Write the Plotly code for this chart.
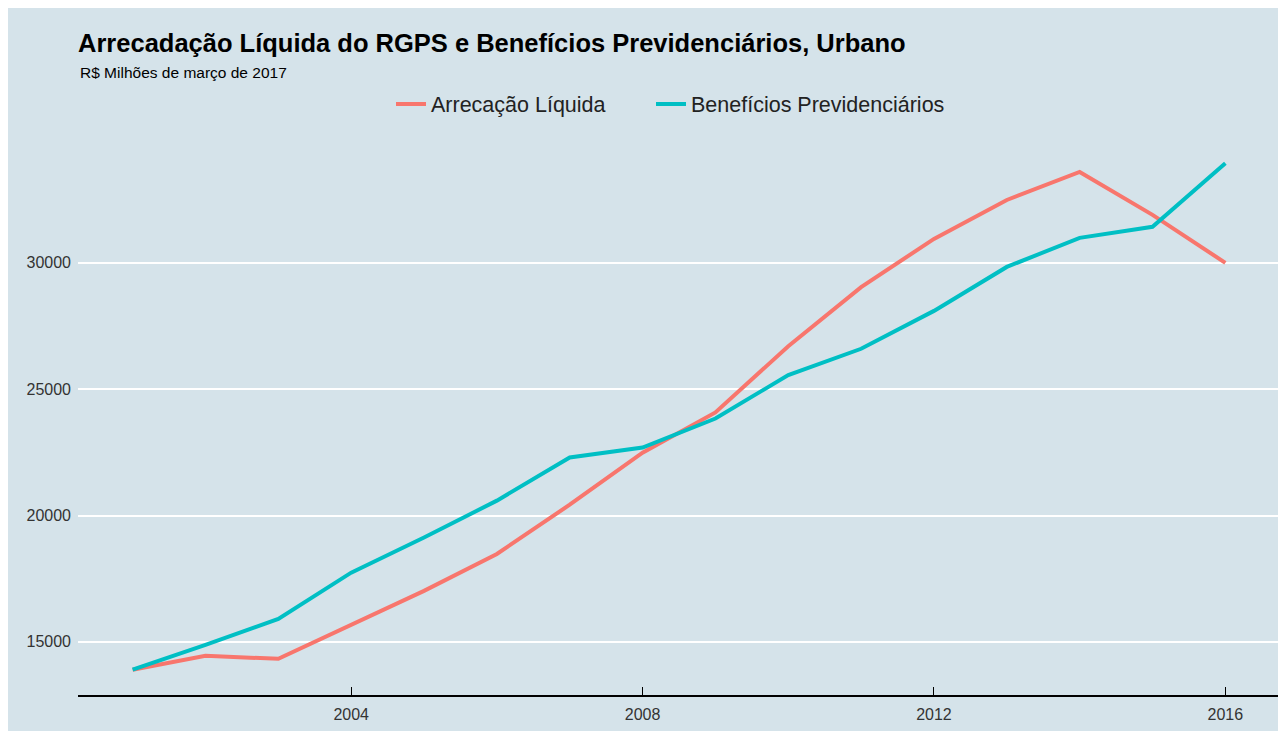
import plotly.graph_objects as go

anos = list(range(2001, 2017))
arrecadacao = [13900, 14450, 14330, 15670, 17020, 18480, 20430, 22490,
               24080, 26700, 29040, 30950, 32490, 33600, 31900, 30000]
beneficios = [13900, 14880, 15910, 17740, 19130, 20590, 22300, 22690,
              23840, 25560, 26600, 28100, 29840, 30990, 31430, 33940]
x_ticks = [2004, 2008, 2012, 2016]
y_ticks = [15000, 20000, 25000, 30000]
y_tick_text = ["15000", "20000", "25000", "30000"]

BG = "#d5e3ea"
FONT = "Liberation Sans, Arial, sans-serif"

fig = go.Figure()
fig.add_trace(go.Scatter(x=anos, y=arrecadacao, mode="lines", name="Arrecação Líquida",
                         line=dict(color="#F8766D", width=4), legend="legend"))
fig.add_trace(go.Scatter(x=anos, y=beneficios, mode="lines", name="Benefícios Previdenciários",
                         line=dict(color="#00BFC4", width=4), legend="legend2"))

# page is offset by the 8px body margin
OX, OY = 8, 8
W, H = 1278, 723
L, R, T, B = 78 - OX, 6, 138 - OY, 36
pw, ph = W - L - R, H - T - B

leg_common = dict(orientation="h", xanchor="left",
                  y=(H - B - (104 - OY)) / ph, yanchor="middle",
                  font=dict(size=21.5, color="#222222"), bgcolor="rgba(0,0,0,0)")

fig.update_layout(
    width=W, height=H,
    margin=dict(l=L, r=R, t=T, b=B),
    paper_bgcolor=BG, plot_bgcolor=BG,
    font=dict(family=FONT, color="#333333"),
    title=dict(text="<b>Arrecadação Líquida do RGPS e Benefícios Previdenciários, Urbano</b>",
               x=L / W, xanchor="left", y=1 - (43 - OY) / H, yanchor="middle",
               font=dict(size=25.5, color="black", family=FONT)),
    annotations=[dict(text="R$ Milhões de março de 2017", xref="paper", yref="paper",
                      x=0, y=(H - B - (73 - OY)) / ph, xanchor="left", yanchor="middle",
                      showarrow=False, font=dict(size=15.5, color="black", family=FONT))],
    legend=dict(x=(391 - OX - L) / pw, **leg_common),
    legend2=dict(x=(651 - OX - L) / pw, **leg_common),
    showlegend=True,
)
fig.update_xaxes(range=[2000.25, 2016.75], tickvals=x_ticks, showgrid=False,
                 showline=True, linecolor="black", linewidth=1.5,
                 ticks="inside", ticklen=8, tickcolor="black",
                 ticklabelstandoff=4,
                 tickfont=dict(size=16, color="#333333"), zeroline=False)
fig.update_yaxes(range=[12898, 34942], tickvals=y_ticks, ticktext=y_tick_text,
                 showgrid=True, gridcolor="white", gridwidth=2,
                 showline=False, zeroline=False,
                 ticks="", ticklabelstandoff=6,
                 tickfont=dict(size=16, color="#333333"))

fig.write_html("out.html")
